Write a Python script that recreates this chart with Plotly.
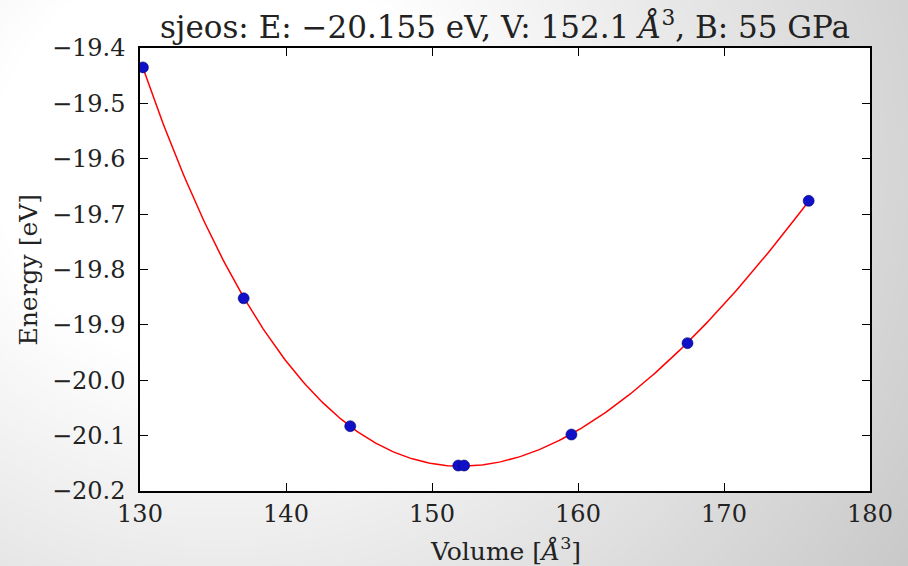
import base64
import struct
import zlib

import numpy as np
import plotly.graph_objects as go

# Calculated cell volumes and total energies
volumes = [130.2, 137.1, 144.4, 151.8, 152.2, 159.55, 167.5, 175.8]
energies = [-19.435, -19.852, -20.083, -20.154, -20.154, -20.098, -19.933, -19.676]

x_ticks = [130, 140, 150, 160, 170, 180]
y_ticks = [-19.4, -19.5, -19.6, -19.7, -19.8, -19.9, -20.0, -20.1, -20.2]

title_text = "sjeos: E: \u221220.155 eV, V: 152.1 <i>\u00c5</i><sup>3</sup>, B: 55 GPa"
xlabel = "Volume [<i>\u00c5</i><sup>3</sup>]"
ylabel = "Energy [eV]"

W, H = 908, 566
ML, MR, MT, MB = 140, 38, 48, 75
PW, PH = W - ML - MR, H - MT - MB

# SJEOS fit: E is a cubic polynomial in V^(-1/3)
v = np.array(volumes)
e = np.array(energies)
coef = np.polyfit(v ** (-1.0 / 3.0), e, 3)
v_fit = np.linspace(v.min(), v.max(), 300)
e_fit = np.polyval(coef, v_fit ** (-1.0 / 3.0))


def gradient_png(w, h):
    """Soft grey radial backdrop encoded as a grayscale PNG data URI."""
    yy, xx = np.mgrid[0:h, 0:w].astype(float)
    d = np.hypot(xx - 220.0, (yy - 160.0) * 1.1)
    t = np.clip((d - 230.0) / 600.0, 0.0, 1.0)
    img = (255.0 - 55.0 * t).astype(np.uint8)
    raw = b"".join(b"\x00" + img[r].tobytes() for r in range(h))

    def chunk(tag, data):
        c = struct.pack(">I", len(data)) + tag + data
        return c + struct.pack(">I", zlib.crc32(tag + data) & 0xFFFFFFFF)

    png = b"\x89PNG\r\n\x1a\n"
    png += chunk(b"IHDR", struct.pack(">IIBBBBB", w, h, 8, 0, 0, 0, 0))
    png += chunk(b"IDAT", zlib.compress(raw, 9))
    png += chunk(b"IEND", b"")
    return "data:image/png;base64," + base64.b64encode(png).decode()


FONT = "DejaVu Serif"
TEXT = "#222222"

fig = go.Figure()
fig.add_trace(go.Scatter(
    x=v_fit, y=e_fit, mode="lines",
    line=dict(color="#ff0000", width=1.5),
    hoverinfo="skip", showlegend=False,
))
fig.add_trace(go.Scatter(
    x=volumes, y=energies, mode="markers",
    marker=dict(color="#1010c8", size=11, line=dict(color="#000070", width=0.6)),
    showlegend=False,
))

axis_common = dict(
    showgrid=False, zeroline=False,
    showline=True, linecolor="black", linewidth=1.5, mirror="ticks",
    ticks="inside", ticklen=8, tickwidth=1, tickcolor="black",
    tickfont=dict(family=FONT, size=24, color=TEXT),
)

fig.update_xaxes(range=[130, 180], tickvals=x_ticks, ticktext=[str(t) for t in x_ticks],
                 ticklabelstandoff=0, **axis_common)
fig.update_yaxes(range=[-20.2, -19.4], tickvals=y_ticks, tickformat=".1f",
                 ticklabelstandoff=8, **axis_common)

fig.update_layout(
    width=W, height=H,
    margin=dict(l=ML, r=MR, t=MT, b=MB, pad=0),
    paper_bgcolor="white",
    plot_bgcolor="rgba(0,0,0,0)",
    title=dict(text=title_text, x=0.5, xref="paper", y=1 - 27 / H, yref="container",
               xanchor="center", yanchor="middle",
               font=dict(family=FONT, size=31, color=TEXT)),
    images=[dict(source=gradient_png(W, H), xref="paper", yref="paper",
                 x=-ML / PW, y=1 + MT / PH, sizex=W / PW, sizey=H / PH,
                 xanchor="left", yanchor="top", sizing="stretch", layer="below")],
    shapes=[dict(type="rect", xref="paper", yref="paper", x0=0, x1=1, y0=0, y1=1,
                 fillcolor="white", line=dict(width=0), layer="below")],
    annotations=[
        dict(text=xlabel, xref="paper", yref="paper", x=0.5, y=-(549 - MT - PH) / PH,
             xanchor="center", yanchor="middle", showarrow=False,
             font=dict(family=FONT, size=25, color=TEXT)),
        dict(text=ylabel, xref="paper", yref="paper", x=-(ML - 28) / PW, y=0.5,
             xanchor="center", yanchor="middle", showarrow=False, textangle=-90,
             font=dict(family=FONT, size=25, color=TEXT)),
    ],
)

fig.write_html("out.html")
